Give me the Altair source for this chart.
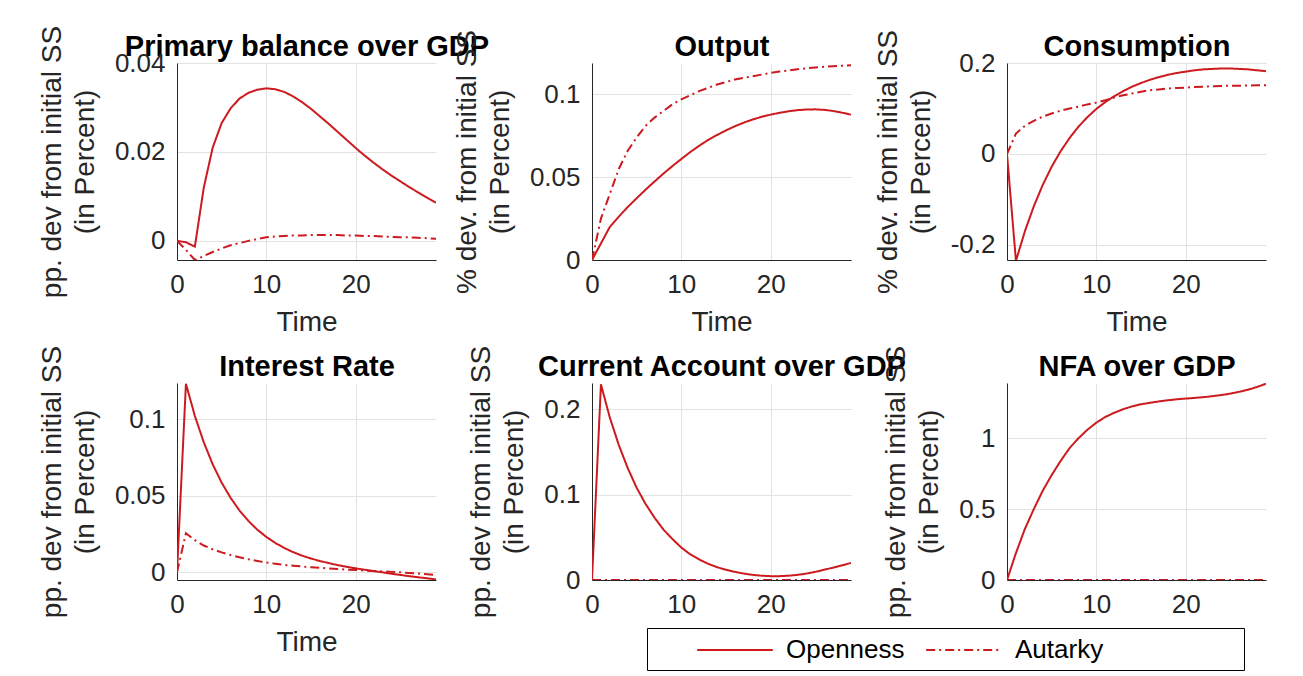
import altair as alt
import pandas as pd

# ---------------- data ----------------
t = list(range(30))
series_names = ["Openness", "Autarky"]

primary_open = [0, -0.0003, -0.0013, 0.012, 0.021, 0.0265, 0.0298, 0.032, 0.0333, 0.034,
                0.0343, 0.0341, 0.0335, 0.0325, 0.0312, 0.0297, 0.028, 0.0263, 0.0245, 0.0227,
                0.0209, 0.0192, 0.0176, 0.0161, 0.0147, 0.0134, 0.0121, 0.0109, 0.0097, 0.0086]
primary_aut = [0, -0.002, -0.0043, -0.0034, -0.0025, -0.0017, -0.001, -0.0005, 0.0, 0.0004,
               0.0008, 0.001, 0.0011, 0.0012, 0.0012, 0.0013, 0.0013, 0.0013, 0.0013, 0.0012,
               0.0012, 0.0011, 0.0011, 0.001, 0.0009, 0.0008, 0.0008, 0.0007, 0.0006, 0.0005]

output_open = [0, 0.01, 0.02, 0.0262, 0.032, 0.0373, 0.0425, 0.0474, 0.0522, 0.0567,
               0.061, 0.0652, 0.069, 0.0725, 0.0755, 0.0783, 0.0808, 0.083, 0.0849, 0.0865,
               0.0878, 0.0889, 0.0898, 0.0905, 0.0909, 0.091, 0.0907, 0.09, 0.089, 0.0878]
output_aut = [0, 0.025, 0.04, 0.055, 0.066, 0.074, 0.081, 0.086, 0.09, 0.094,
              0.097, 0.0995, 0.102, 0.104, 0.106, 0.1075, 0.109, 0.11, 0.111, 0.112,
              0.113, 0.1138, 0.1145, 0.1152, 0.1158, 0.1163, 0.1167, 0.1171, 0.1174, 0.1177]

cons_open = [0, -0.235, -0.17, -0.115, -0.068, -0.028, 0.006, 0.035, 0.06, 0.081,
             0.099, 0.114, 0.127, 0.138, 0.148, 0.156, 0.163, 0.169, 0.174, 0.178,
             0.181, 0.184, 0.186, 0.187, 0.188, 0.188, 0.187, 0.186, 0.184, 0.182]
cons_aut = [0, 0.045, 0.062, 0.073, 0.082, 0.089, 0.095, 0.1, 0.104, 0.109,
            0.113, 0.118, 0.124, 0.129, 0.133, 0.137, 0.14, 0.142, 0.144, 0.145,
            0.146, 0.147, 0.148, 0.149, 0.1495, 0.15, 0.15, 0.1505, 0.151, 0.151]

rate_open = [0, 0.123, 0.102, 0.0848, 0.0704, 0.0585, 0.0486, 0.0403, 0.0335, 0.0278,
             0.0231, 0.0192, 0.0159, 0.0132, 0.0109, 0.009, 0.0074, 0.006, 0.0047, 0.0036,
             0.0026, 0.0017, 0.0008, 0.0, -0.0009, -0.0017, -0.0025, -0.0032, -0.0039, -0.0046]
rate_aut = [0, 0.0255, 0.021, 0.0175, 0.015, 0.013, 0.0113, 0.0098, 0.0085, 0.0074,
            0.0064, 0.0056, 0.0049, 0.0043, 0.0038, 0.0033, 0.0029, 0.0025, 0.0021, 0.0018,
            0.0015, 0.0012, 0.0009, 0.0006, 0.0003, 0.0, -0.0004, -0.0008, -0.0013, -0.0017]

ca_open = [0, 0.229, 0.19, 0.158, 0.131, 0.108, 0.089, 0.073, 0.059, 0.048,
           0.038, 0.03, 0.024, 0.019, 0.015, 0.012, 0.0095, 0.0075, 0.006, 0.005,
           0.0045, 0.0045, 0.005, 0.006, 0.0075, 0.0095, 0.012, 0.0145, 0.0172, 0.02]
ca_aut = [0, 0, 0, 0, 0, 0, 0, 0, 0, 0,
          0, 0, 0, 0, 0, 0, 0, 0, 0, 0,
          0, 0, 0, 0, 0, 0, 0, 0, 0, 0]

nfa_open = [0, 0.19, 0.36, 0.5, 0.63, 0.74, 0.84, 0.93, 1.0, 1.06,
            1.11, 1.15, 1.18, 1.205, 1.225, 1.24, 1.25, 1.26, 1.268, 1.275,
            1.28, 1.285, 1.29, 1.297, 1.305, 1.315, 1.328, 1.343, 1.362, 1.385]
nfa_aut = [0, 0, 0, 0, 0, 0, 0, 0, 0, 0,
           0, 0, 0, 0, 0, 0, 0, 0, 0, 0,
           0, 0, 0, 0, 0, 0, 0, 0, 0, 0]

titles = ["Primary balance over GDP", "Output", "Consumption",
          "Interest Rate", "Current Account over GDP", "NFA over GDP"]
ytitles = [["pp. dev from initial SS", "(in Percent)"],
           ["% dev. from initial SS", "(in Percent)"],
           ["% dev. from initial SS", "(in Percent)"],
           ["pp. dev from initial SS", "(in Percent)"],
           ["pp. dev from initial SS", "(in Percent)"],
           ["pp. dev from initial SS", "(in Percent)"]]
ydomains = [[-0.0043, 0.04], [0, 0.119], [-0.233, 0.2],
            [-0.005, 0.1235], [0, 0.2306], [0, 1.39]]
yticks = [[0, 0.02, 0.04], [0, 0.05, 0.1], [-0.2, 0, 0.2],
          [0, 0.05, 0.1], [0, 0.1, 0.2], [0, 0.5, 1]]
xticks = [0, 10, 20]
open_series = [primary_open, output_open, cons_open, rate_open, ca_open, nfa_open]
aut_series = [primary_aut, output_aut, cons_aut, rate_aut, ca_aut, nfa_aut]

# ---------------- style ----------------
RED = "#cc1a1f"
FONT = "Liberation Sans"
AX = "#262626"
W, H = 259, 197
BLANK = "\u2800" * 7

legend = alt.Legend(
    orient="none", legendX=470, legendY=565, direction="horizontal",
    title="\u00a0", titleOrient="left", titlePadding=66, titleFontSize=26,
    symbolType="M-2.7,0H2.7", symbolSize=784, symbolStrokeWidth=2, symbolStrokeColor=RED,
    labelFontSize=26, labelFont=FONT, labelColor="black", labelOffset=36,
    labelLimit=600, columnPadding=17, padding=7,
    strokeColor="black", fillColor="white",
    labelExpr="datum.label == 'Autarky' ? datum.label + '" + BLANK + "' : datum.label",
)


def panel(i):
    df = pd.DataFrame({
        "t": t + t,
        "v": open_series[i] + aut_series[i],
        "s": [series_names[0]] * len(t) + [series_names[1]] * len(t),
    })
    xs = alt.Scale(domain=[0, 29], nice=False, zero=False)
    ys = alt.Scale(domain=ydomains[i], nice=False, zero=False)
    lines = alt.Chart(df).mark_line(clip=True, strokeWidth=2, color=RED).encode(
        x=alt.X("t:Q", scale=xs, axis=alt.Axis(
            values=xticks, title="Time", labelFlush=False, grid=True, ticks=False,
            labelFontSize=26, titleFontSize=28, labelPadding=11, titlePadding=11,
            labelFont=FONT, titleFont=FONT, labelColor=AX, titleColor=AX,
            titleFontWeight="normal", domainColor=AX, gridColor="#e2e2e2")),
        y=alt.Y("v:Q", scale=ys, axis=alt.Axis(
            values=yticks[i], title=ytitles[i], format="~g",
            labelExpr="replace(datum.label, '\u2212', '-')",
            labelFlush=False, grid=True, ticks=False,
            labelFontSize=26, titleFontSize=28, titleLineHeight=33,
            labelPadding=12, titlePadding=15,
            labelFont=FONT, titleFont=FONT, labelColor=AX, titleColor=AX,
            titleFontWeight="normal", domainColor=AX, gridColor="#e2e2e2")),
        strokeDash=alt.StrokeDash("s:N", scale=alt.Scale(
            domain=series_names, range=[[1, 0], [9, 4, 2, 4]]), legend=legend),
    )
    head = alt.Chart(df).mark_rule(strokeOpacity=0).encode(
        x=alt.X("t:Q", scale=xs, axis=alt.Axis(
            orient="top", title=titles[i], labels=False, ticks=False, domain=False,
            grid=False, titleFontSize=29, titleFontWeight="bold", titleColor="black",
            titleFont=FONT, titlePadding=8, titleBaseline="alphabetic")),
    )
    return alt.layer(lines, head).resolve_axis(x="independent").properties(width=W, height=H)


chart = alt.concat(
    *[panel(i) for i in range(6)], columns=3,
    spacing={"row": 123, "column": 156}, bounds="flush",
).properties(
    padding={"left": 38, "top": 25, "right": 5, "bottom": 5},
    background="white",
).configure_view(stroke=None)

chart.save("out.html", embed_options={"renderer": "svg", "actions": False})
